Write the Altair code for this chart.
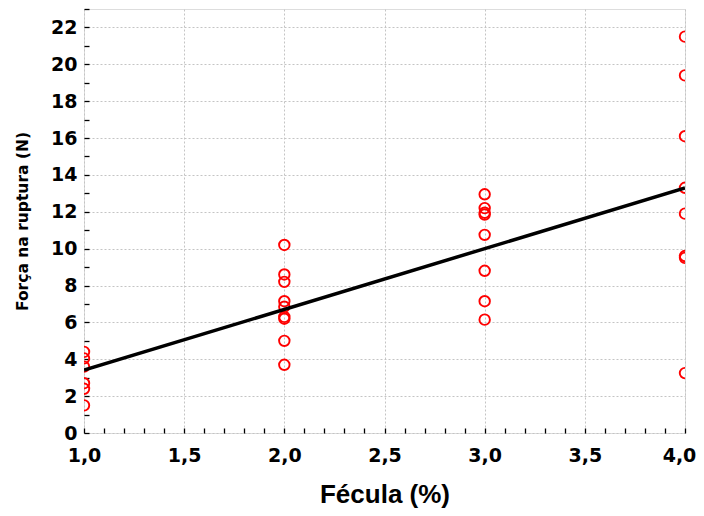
import altair as alt
import pandas as pd

# Data
fecula = [1, 1, 1, 1, 1, 1,
          2, 2, 2, 2, 2, 2, 2, 2, 2,
          3, 3, 3, 3, 3, 3, 3, 3,
          4, 4, 4, 4, 4, 4, 4, 4]
forca = [4.4, 4.05, 3.6, 2.7, 2.4, 1.5,
         10.2, 8.6, 8.2, 7.15, 6.85, 6.3, 6.2, 5.0, 3.7,
         12.95, 12.2, 11.95, 11.85, 10.75, 8.8, 7.15, 6.15,
         21.5, 19.4, 16.1, 13.3, 11.9, 9.6, 9.5, 3.25]

x_major = [1.0, 1.5, 2.0, 2.5, 3.0, 3.5, 4.0]
y_major = list(range(0, 23, 2))
x_minor = [round(1.0 + 0.1 * i, 1) for i in range(31)]
y_minor = list(range(0, 24))

df = pd.DataFrame({"x": fecula, "y": forca})

W, H = 601, 424
FONT = "DejaVu Sans"

xscale = alt.Scale(domain=[1, 4], nice=False, zero=False)
yscale = alt.Scale(domain=[0, 23], nice=False, zero=True)

points = alt.Chart(df).mark_point(
    shape="circle", filled=False, color="#ff0000", opacity=1, size=110,
    strokeWidth=1.9, clip=True
).encode(
    x=alt.X("x:Q", scale=xscale, axis=alt.Axis(
        orient="bottom", values=x_major, format=".1f",
        labelExpr="replace(datum.label, '.', ',')",
        ticks=False, domain=False, grid=True, gridColor="#c4c4c4", gridDash=[2, 2], gridWidth=1,
        labelFont=FONT, labelFontWeight="bold", labelFontSize=19, labelColor="black",
        labelPadding=13, labelFlush=False, labelOverlap=False,
        labelOffset={"condition": {"test": "datum.value >= 4", "value": -6}, "value": 0},
        title="Fécula (%)", titleFont="Liberation Sans", titleFontWeight="bold",
        titleFontSize=26, titleColor="black", titlePadding=16)),
    y=alt.Y("y:Q", scale=yscale, axis=alt.Axis(
        orient="left", values=y_major, ticks=False, domain=False, grid=True,
        gridColor="#c4c4c4", gridDash=[2, 2], gridWidth=1,
        labelFont=FONT, labelFontWeight="bold", labelFontSize=19, labelColor="black",
        labelPadding=7, labelFlush=False, labelOverlap=False,
        title="Força na ruptura (N)", titleFont=FONT, titleFontWeight="bold",
        titleFontSize=15.5, titleColor="black", titlePadding=20)),
)

line = alt.Chart(df).transform_regression("x", "y").mark_line(
    color="black", strokeWidth=3.5, clip=True
).encode(
    x=alt.X("x:Q", scale=xscale, axis=alt.Axis(
        orient="top", offset=-H, values=x_minor, labels=False, grid=False,
        domain=False, ticks=True, tickSize=5, tickColor="black", tickWidth=1.3, title=None)),
    y=alt.Y("y:Q", scale=yscale, axis=alt.Axis(
        orient="right", offset=-W, values=y_minor, labels=False, grid=False,
        domain=False, ticks=True, tickSize=5, tickColor="black", tickWidth=1.3, title=None)),
)

chart = alt.layer(points, line).resolve_axis(x="independent", y="independent").properties(
    width=W, height=H,
    autosize=alt.AutoSizeParams(type="none"),
    padding={"left": 76, "top": 1, "right": 11, "bottom": 75},
).configure_view(stroke="black", strokeWidth=2.2).configure(background="white")

chart.save("out.html", embed_options={"renderer": "svg", "actions": False})
